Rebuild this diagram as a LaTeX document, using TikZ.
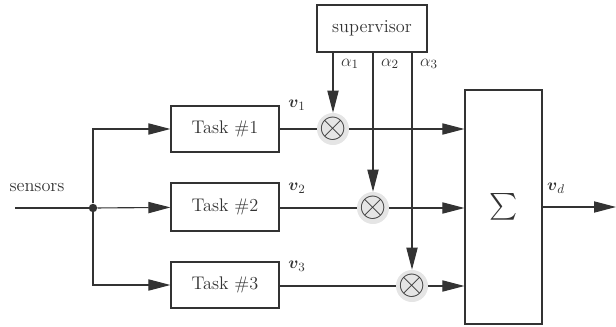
\documentclass[tikz,border=0pt]{standalone}
\usepackage{amsfonts}
\usepackage{amsmath}
\usepackage{tikz}
\usetikzlibrary{arrows.meta}

\begin{document}
\begin{tikzpicture}[x=0.025cm, y=-0.025cm, color=black!80, font=\fontsize{13}{15}\selectfont]
    \tikzstyle{arrow} = [line width=0.8pt,-{Triangle[length=5.5mm,width=2.8mm]}]
    \tikzstyle{line} = [line width=0.8pt]
    \tikzstyle{block} = [draw, line width=0.8pt, rectangle, minimum width=2.7cm, minimum height=1.15cm]
    \tikzstyle{mult} = [circle, fill=black!10, minimum size=0.8cm, inner sep=-3pt, font=\fontsize{23}{23}\selectfont]
    \useasboundingbox (0,0) rectangle (616,327);

    % Input signal and branching point
    \coordinate (Sensors) at (15,208);
    \node (SensorsLabel) at (37,188) {sensors};
    \node [circle, fill, inner sep=0pt, minimum size=6pt] (Split) at (93,208) {};
    \draw [line] (Sensors) -- (Split);

    % Supervisor on top
    \node [block, minimum width=2.75cm, minimum height=1.175cm] (Supervisor) at (372,28.5) {supervisor};

    % Summation block on the right
    \node [block, minimum width=1.925cm, minimum height=5.85cm, font=\fontsize{19}{19}\selectfont] (Sum) at (503.5,207) {$\sum$};
    \coordinate (Out) at (616,207);
    \draw [arrow] (Sum.east) -- (Out);
    \node (LabelOut) at (556,188) {$\boldsymbol{v}_d$};

    % First task, top row
    \node [block] (TaskOne) at (225,129) {Task \#1};
    \draw [arrow] (Split) |- (TaskOne);
    \node (LabelOne) at (297,105) {$\boldsymbol{v}_1$};
    \node [mult] (MultOne) at (333,129) {$\otimes$};
    \draw [line] (TaskOne) -- (MultOne);
    \draw [arrow] (MultOne) -- (MultOne -| Sum.west);
    \draw [arrow] (MultOne |- Supervisor.south) -- (MultOne);
    \node (AlphaOne) at (350,64) {$\alpha_1$};

    % Second task, middle row
    \node [block, minimum height=1.2cm] (TaskTwo) at (225,207) {Task \#2};
    \draw [arrow] (Split) -- (TaskTwo);
    \node (LabelTwo) at (297,188) {$\boldsymbol{v}_2$};
    \node [mult] (MultTwo) at (373,208) {$\otimes$};
    \draw [line] (TaskTwo.east |- MultTwo) -- (MultTwo);
    \draw [arrow] (MultTwo) -- (MultTwo -| Sum.west);
    \draw [arrow] (MultTwo |- Supervisor.south) -- (MultTwo);
    \node (AlphaTwo) at (390,64) {$\alpha_2$};

    % Third task, bottom row
    \node [block] (TaskThree) at (225,285) {Task \#3};
    \draw [arrow] (Split) |- (TaskThree);
    \node (LabelThree) at (297,266) {$\boldsymbol{v}_3$};
    \node [mult] (MultThree) at (412,286) {$\otimes$};
    \draw [line] (TaskThree.east |- MultThree) -- (MultThree);
    \draw [arrow] (MultThree) -- (MultThree -| Sum.west);
    \draw [arrow] (MultThree |- Supervisor.south) -- (MultThree);
    \node (AlphaThree) at (429,64) {$\alpha_3$};
\end{tikzpicture}
\end{document}
